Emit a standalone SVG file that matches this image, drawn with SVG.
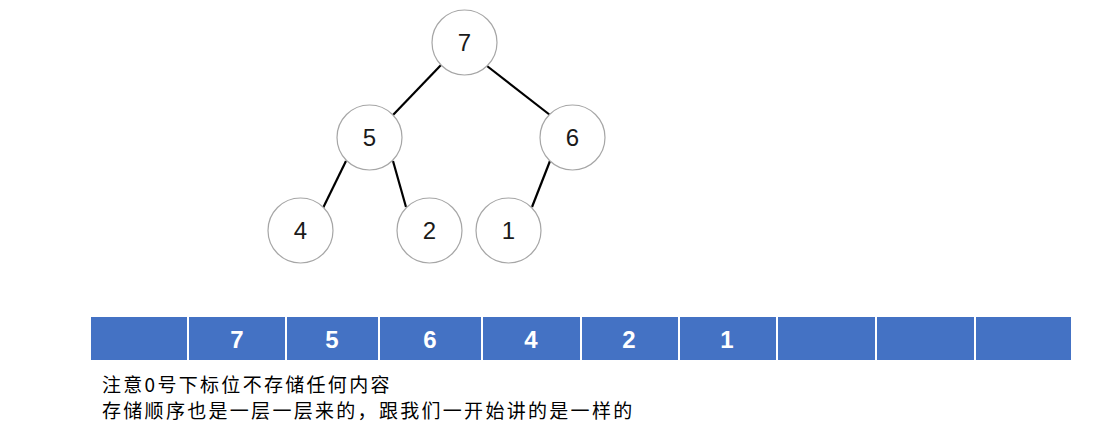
<svg xmlns="http://www.w3.org/2000/svg" width="1114" height="432" viewBox="0 0 1114 432">
<style>
.node circle{fill:#fff;stroke:#a6a6a6;stroke-width:1.2}
.node text{font-family:"Liberation Sans","Noto Sans",sans-serif;font-size:24px;fill:#1a1a1a;text-anchor:middle}
.edge{stroke:#000;stroke-width:2.2;fill:none}
.cell{fill:#4472c4}
.cell-t{font-family:"Liberation Sans",sans-serif;font-weight:bold;font-size:24px;fill:#fff;text-anchor:middle}
.note{font-family:"Noto Sans CJK SC","Noto Sans",sans-serif;font-size:19px;letter-spacing:2.3px;fill:#000}
</style>
<rect width="1114" height="432" fill="#fff"/>
<g id="connectors">
<line class="edge" x1="441" y1="65" x2="393" y2="115"/>
<line class="edge" x1="487" y1="66" x2="550" y2="115"/>
<line class="edge" x1="346" y1="161" x2="323" y2="208"/>
<line class="edge" x1="393" y1="161" x2="406" y2="207"/>
<line class="edge" x1="550" y1="161" x2="532" y2="207"/>
</g>
<g id="n7" class="node"><circle cx="464.5" cy="42.5" r="32.5"/><text x="464.5" y="51">7</text></g>
<g id="n5" class="node"><circle cx="369.5" cy="137.5" r="32.5"/><text x="369.5" y="146">5</text></g>
<g id="n6" class="node"><circle cx="572.5" cy="137.5" r="32.5"/><text x="572.5" y="146">6</text></g>
<g id="n4" class="node"><circle cx="300.5" cy="230.5" r="32.5"/><text x="300.5" y="239">4</text></g>
<g id="n2" class="node"><circle cx="429.5" cy="230.5" r="32.5"/><text x="429.5" y="239">2</text></g>
<g id="n1" class="node"><circle cx="508.5" cy="230.5" r="32.5"/><text x="508.5" y="239">1</text></g>
<g id="array">
<rect class="cell" x="91" y="317" width="96" height="43"/>
<rect class="cell" x="189" y="317" width="96" height="43"/>
<rect class="cell" x="287" y="317" width="91" height="43"/>
<rect class="cell" x="380" y="317" width="101" height="43"/>
<rect class="cell" x="483" y="317" width="97" height="43"/>
<rect class="cell" x="582" y="317" width="96" height="43"/>
<rect class="cell" x="680" y="317" width="96" height="43"/>
<rect class="cell" x="778" y="317" width="97" height="43"/>
<rect class="cell" x="877" y="317" width="97" height="43"/>
<rect class="cell" x="976" y="317" width="95" height="43"/>
<text class="cell-t" x="237" y="348">7</text>
<text class="cell-t" x="332" y="348">5</text>
<text class="cell-t" x="430" y="348">6</text>
<text class="cell-t" x="531" y="348">4</text>
<text class="cell-t" x="629" y="348">2</text>
<text class="cell-t" x="727" y="348">1</text>
</g>
<g id="notes">
<text class="note" x="102" y="392">注意0号下标位不存储任何内容</text>
<text class="note" x="102" y="418">存储顺序也是一层一层来的，跟我们一开始讲的是一样的</text>
</g>
</svg>
